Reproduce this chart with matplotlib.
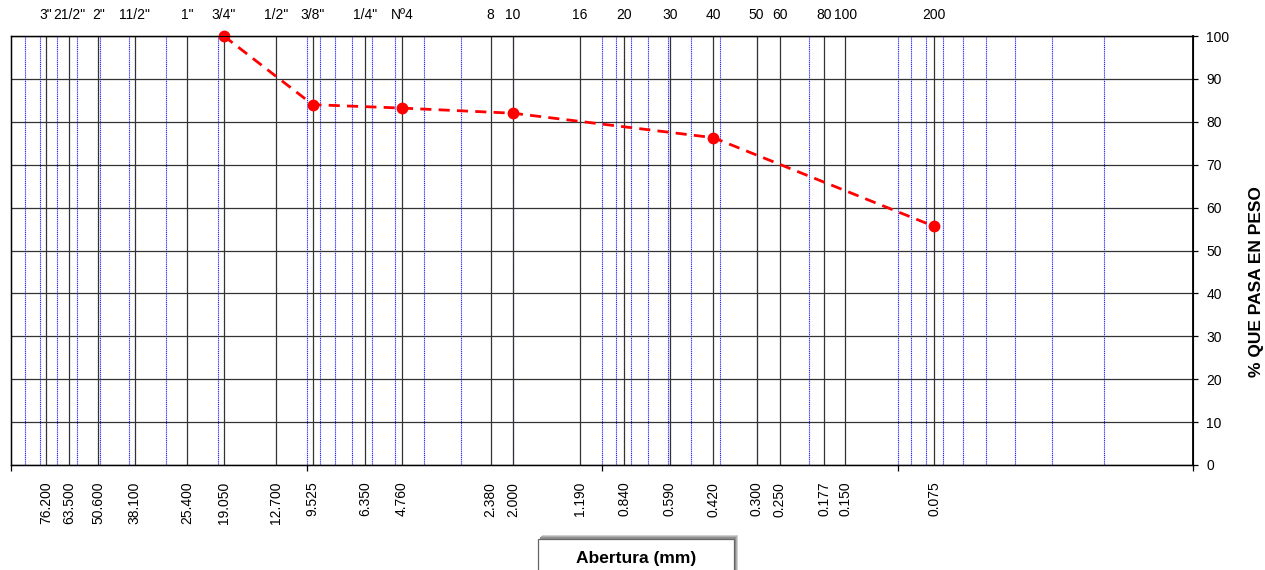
import matplotlib
matplotlib.use("Agg")
import matplotlib.pyplot as plt
from matplotlib.patches import Rectangle
from matplotlib.ticker import FixedLocator, NullFormatter, NullLocator
import numpy as np

plt.rcParams["font.family"] = ["Liberation Sans", "DejaVu Sans"]
plt.rcParams["font.size"] = 10

# sieve openings (mm) and names
sieve_mm = [76.2, 63.5, 50.6, 38.1, 25.4, 19.05, 12.7, 9.525, 6.35, 4.76,
            2.38, 2.0, 1.19, 0.84, 0.59, 0.42, 0.30, 0.25, 0.177, 0.15, 0.075]
sieve_mm_labels = ["76.200", "63.500", "50.600", "38.100", "25.400", "19.050",
                   "12.700", "9.525", "6.350", "4.760", "2.380", "2.000",
                   "1.190", "0.840", "0.590", "0.420", "0.300", "0.250",
                   "0.177", "0.150", "0.075"]
sieve_names = ["3\"", "21/2\"", "2\"", "11/2\"", "1\"", "3/4\"", "1/2\"",
               "3/8\"", "1/4\"", "Nº4", "8", "10", "16", "20", "30", "40",
               "50", "60", "80", "100", "200"]

# grading curve
abertura = [19.05, 9.525, 4.76, 2.0, 0.42, 0.075]
pasa = [100, 84.0, 83.2, 82.0, 76.3, 55.6]

W, H = 1265, 570
fig = plt.figure(figsize=(W / 100, H / 100), dpi=100)
ax = fig.add_axes([11 / W, 1 - 465 / H, (1193 - 11) / W, (465 - 36) / H])

ax.set_xscale("log")
ax.set_xlim(100, 0.01)
ax.set_ylim(0, 100)

# blue log grid (1..9 x decades)
for dec in [10.0, 1.0, 0.1, 0.01]:
    for m in range(1, 10):
        v = m * dec
        if 0.01 < v < 100:
            ax.axvline(v, color="#2020ff", lw=0.8, ls=(0, (1, 0.7)), zorder=1)

# black lines at sieve sizes
for v in sieve_mm:
    ax.axvline(v, color="#333333", lw=0.9, zorder=1.5)

ax.set_yticks(np.arange(0, 101, 10))
ax.grid(axis="y", color="#333333", lw=0.9, zorder=1.5)

ax.plot(abertura, pasa, color="#ff0000", lw=2, ls=(0, (4, 2.6)),
        marker="o", ms=8.5, markeredgewidth=0, zorder=5, clip_on=False)

# x axis: decade ticks unlabeled, sieve labels as minor ticks
ax.xaxis.set_major_locator(FixedLocator([100, 10, 1, 0.1, 0.01]))
ax.xaxis.set_major_formatter(NullFormatter())
ax.xaxis.set_minor_locator(FixedLocator(sieve_mm))
ax.set_xticks(sieve_mm, labels=sieve_mm_labels, minor=True)
ax.tick_params(axis="x", which="major", length=4, width=0.9, direction="out")
ax.tick_params(axis="x", which="minor", length=0, pad=12, labelrotation=90,
               labelsize=10)

# y axis on right
ax.yaxis.tick_right()
ax.tick_params(axis="y", length=3.5, width=0.9, pad=6, labelsize=10)

for s in ["top", "bottom", "left"]:
    ax.spines[s].set_linewidth(1.0)
ax.spines["right"].set_linewidth(1.3)

# top sieve names
ax2 = ax.twiny()
ax2.set_xscale("log")
ax2.set_xlim(100, 0.01)
ax2.xaxis.set_minor_locator(NullLocator())
ax2.set_xticks(sieve_mm, labels=sieve_names)
ax2.tick_params(axis="x", length=0, pad=10, labelsize=10)

fig.text(1256 / W, 1 - 282 / H, "% QUE PASA EN PESO", rotation=90,
         ha="center", va="center", fontsize=12.5, fontweight="bold")

# x label box with soft shadow
for off, col in [(4, "#d0d0d0"), (3, "#b0b0b0"), (2, "#909090")]:
    fig.patches.append(Rectangle(((538 + off) / W, -0.05), (734 - 538) / W,
                                 0.05 + (H - 539 + off) / H,
                                 transform=fig.transFigure, facecolor=col,
                                 edgecolor="none", zorder=0))
fig.patches.append(Rectangle((538 / W, -0.05), (734 - 538) / W, 0.05 + (H - 539) / H,
                             transform=fig.transFigure, facecolor="white",
                             edgecolor="#666666", lw=0.9, zorder=1))
fig.text(636 / W, 1 - 558 / H, "Abertura (mm)", ha="center", va="center",
         fontsize=12.5, fontweight="bold")

fig.savefig("out.png", dpi=100, facecolor="white")
